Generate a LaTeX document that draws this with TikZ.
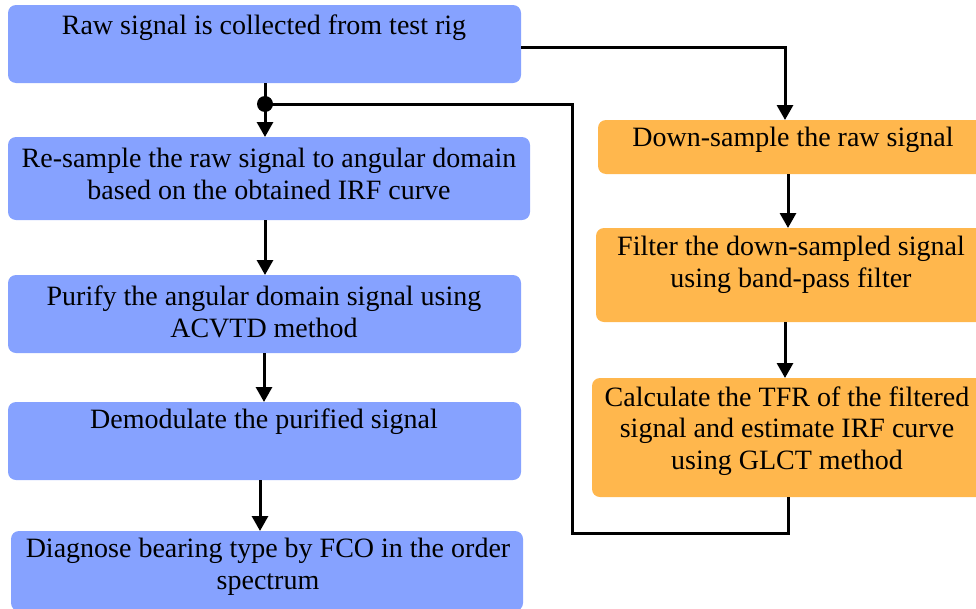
\documentclass[tikz,border=0pt]{standalone}
\usepackage{fontspec}
\setmainfont{Liberation Serif}
\newfontfamily\boxfont{Liberation Serif}
\usetikzlibrary{arrows.meta}
\definecolor{bluefill}{RGB}{134,162,255}
\definecolor{orangefill}{RGB}{255,183,77}
\begin{document}
\begin{tikzpicture}[x=1pt,y=-1pt,
  bbox/.style={draw=none,fill=bluefill,rounded corners=8pt,inner sep=0pt},
  obox/.style={draw=none,fill=orangefill,rounded corners=8pt,inner sep=0pt},
  txt/.style={inner sep=0pt,align=center,font=\boxfont\fontsize{28}{31.5}\selectfont},
  conn/.style={line width=3pt,-{Triangle[length=15pt,width=16pt]}},
  plain/.style={line width=3pt}]
\useasboundingbox (0,0) rectangle (976,608);
% blue boxes
\node[bbox,minimum width=513pt,minimum height=78pt] (b1) at (264.5,44) {};
\node[bbox,minimum width=522pt,minimum height=83pt] (b2) at (269,178.5) {};
\node[bbox,minimum width=513pt,minimum height=78pt] (b3) at (264.5,314) {};
\node[bbox,minimum width=513pt,minimum height=78pt] (b4) at (264.5,441) {};
\node[bbox,minimum width=512pt,minimum height=80pt] (b5) at (267,571) {};
% orange boxes
\node[obox,minimum width=386pt,minimum height=54pt] (o1) at (791,147) {};
\node[obox,minimum width=388pt,minimum height=94pt] (o2) at (790,275) {};
\node[obox,minimum width=392pt,minimum height=119pt] (o3) at (788,437.5) {};
% texts
\node[txt] (t1) at (264,28) {Raw signal is collected from test rig};
\node[txt] (t2) at (269,174) {Re-sample the raw signal to angular domain\\based on the obtained IRF curve};
\node[txt] (t3) at (264,312) {Purify the angular domain signal using\\ACVTD method};
\node[txt] (t4) at (264,422) {Demodulate the purified signal};
\node[txt] (t5) at (268,567) {Diagnose bearing type by FCO in the order\\spectrum};
\node[txt] (t6) at (793,140) {Down-sample the raw signal};
\node[txt] (t7) at (791,265) {Filter the down-sampled signal\\using band-pass filter};
\node[txt] (t8) at (787,431) {Calculate the TFR of the filtered\\signal and estimate IRF curve\\using GLCT method};
% junction
\coordinate (j) at (265,104);
\coordinate (jr) at (572,104);
\coordinate (jb) at (572,533);
\coordinate (ob) at (788,533);
\coordinate (b1r) at (785,47);
\fill (j) circle (8pt);
\draw[plain] (265,83) -- (j);
\draw[conn] (j) -- (265,137);
\draw[plain] (j) -- (jr) -- (jb) -- (ob) -- (788,497);
\draw[conn] (521,47) -- (b1r) -- (785,120);
\draw[conn] (788,174) -- (788,228);
\draw[conn] (785,322) -- (785,378);
\draw[conn] (265,220) -- (265,275);
\draw[conn] (264,353) -- (264,402);
\draw[conn] (260,480) -- (260,531);
\end{tikzpicture}
\end{document}
